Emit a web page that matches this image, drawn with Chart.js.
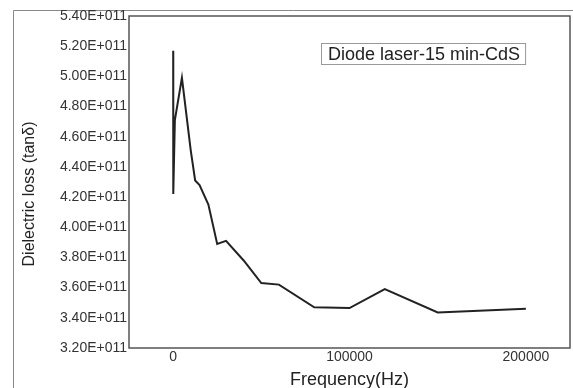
<!DOCTYPE html>
<html>
<head>
<meta charset="utf-8">
<script src="https://cdn.jsdelivr.net/npm/chart.js@4/dist/chart.umd.min.js"></script>
<style>
html,body{margin:0;padding:0;background:#fff;}
#wrap{width:573px;height:388px;position:relative;}
</style>
</head>
<body>
<div id="wrap"><canvas id="c" width="573" height="388"></canvas></div>
<script>
// Data
const frequencies = [50, 100, 1000, 5000, 10000, 12500, 15000, 20000, 25000, 30000, 40000, 50000, 60000, 80000, 100000, 120000, 150000, 200000];
const lossValues = [5.17e11, 4.22e11, 4.71e11, 4.99e11, 4.51e11, 4.31e11, 4.28e11, 4.15e11, 3.89e11, 3.91e11, 3.78e11, 3.63e11, 3.62e11, 3.47e11, 3.465e11, 3.59e11, 3.435e11, 3.46e11];
const xTicks = [0, 100000, 200000];
const yTicks = [3.2e11, 3.4e11, 3.6e11, 3.8e11, 4.0e11, 4.2e11, 4.4e11, 4.6e11, 4.8e11, 5.0e11, 5.2e11, 5.4e11];
const seriesLabel = 'Diode laser-15 min-CdS';
const xTitle = 'Frequency(Hz)';
const yTitle = 'Dielectric loss (tan\u03B4)';

const FONT = "'Liberation Sans', Arial, sans-serif";

const framePlugin = {
  id: 'frame',
  beforeDraw(chart) {
    const ctx = chart.ctx;
    ctx.save();
    ctx.fillStyle = '#fff';
    ctx.fillRect(0, 0, chart.width, chart.height);
    ctx.strokeStyle = '#888';
    ctx.lineWidth = 1;
    ctx.beginPath();
    ctx.moveTo(13.5, chart.height);
    ctx.lineTo(13.5, 10.5);
    ctx.lineTo(chart.width, 10.5);
    ctx.stroke();
    ctx.restore();
  },
  afterDraw(chart) {
    const ctx = chart.ctx;
    const a = chart.chartArea;
    ctx.save();
    ctx.strokeStyle = '#555';
    ctx.lineWidth = 1.5;
    ctx.strokeRect(a.left, a.top, a.right - a.left, a.bottom - a.top);
    // y axis title
    ctx.save();
    ctx.translate(30, 194);
    ctx.rotate(-Math.PI / 2);
    ctx.font = '16px ' + FONT;
    ctx.fillStyle = '#222';
    ctx.textAlign = 'center';
    ctx.textBaseline = 'middle';
    ctx.fillText(yTitle, 0, 0);
    ctx.restore();
    // legend box
    ctx.font = '18px ' + FONT;
    const label = chart.data.datasets[0].label;
    const w = ctx.measureText(label).width;
    const bx = 321, by = 43, bh = 21;
    ctx.strokeStyle = '#999';
    ctx.lineWidth = 1;
    ctx.strokeRect(bx + 0.5, by + 0.5, w + 12, bh);
    ctx.fillStyle = '#222';
    ctx.textBaseline = 'middle';
    ctx.textAlign = 'left';
    ctx.fillText(label, bx + 7, by + bh / 2 + 1.5);
    ctx.restore();
  }
};

new Chart(document.getElementById('c'), {
  type: 'line',
  data: {
    datasets: [{
      label: seriesLabel,
      data: frequencies.map((f, i) => ({x: f, y: lossValues[i]})),
      borderColor: '#222',
      borderWidth: 2,
      pointRadius: 0,
      tension: 0,
      fill: false
    }]
  },
  options: {
    responsive: false,
    animation: false,
    layout: {padding: {top: 16, right: 3, left: 0, bottom: 0}},
    plugins: {legend: {display: false}, tooltip: {enabled: false}},
    scales: {
      x: {
        type: 'linear',
        min: -25000,
        max: 225000,
        afterBuildTicks(s) { s.ticks = xTicks.map(v => ({value: v})); },
        afterFit(s) { s.height = 40; },
        grid: {display: false, drawTicks: false},
        border: {display: false},
        ticks: {
          padding: 1,
          color: '#333',
          font: {family: FONT, size: 14},
          callback: v => String(v),
          maxRotation: 0
        },
        title: {
          display: true,
          text: xTitle,
          color: '#222',
          font: {family: FONT, size: 18, lineHeight: 1},
          padding: {top: 0, bottom: -1}
        }
      },
      y: {
        type: 'linear',
        min: 3.2e11,
        max: 5.4e11,
        afterBuildTicks(s) { s.ticks = yTicks.map(v => ({value: v})); },
        afterFit(s) { s.width = 129; },
        grid: {display: false, drawTicks: false},
        border: {display: false},
        ticks: {
          padding: 2,
          color: '#333',
          font: {family: FONT, size: 14},
          callback: v => (Math.round(v / 1e9) / 100).toFixed(2) + 'E+011'
        },
        title: {display: false}
      }
    }
  },
  plugins: [framePlugin]
});
</script>
</body>
</html>
